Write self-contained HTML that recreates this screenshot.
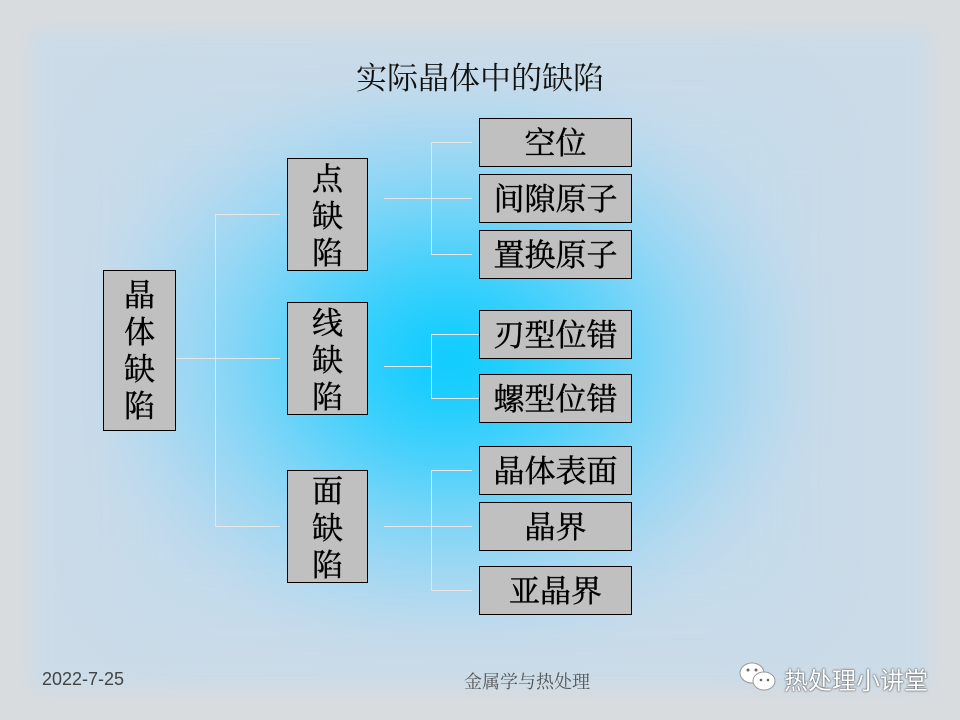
<!DOCTYPE html>
<html><head><meta charset="utf-8"><style>
html,body{margin:0;padding:0}
body{width:960px;height:720px;position:relative;overflow:hidden;background:#d9dcdf;font-family:"Liberation Serif","Noto Serif CJK SC",serif}
#bg{position:absolute;left:30px;top:30px;width:900px;height:660px;background:#cbdbe8;filter:blur(10px)}
#bg2{position:absolute;left:110px;top:90px;width:700px;height:540px;background:radial-gradient(ellipse 380px 300px at 340px 270px,#00ccff 0%,#40d0fc 30%,#8cd6f6 60%,#b8d9ee 85%,#c6dbea 100%);filter:blur(25px);border-radius:60px}
.b{position:absolute;box-sizing:border-box;border:1px solid #000;background:#c0c0c0;color:#000;text-align:center;font-size:31px;-webkit-text-stroke:0.4px #000}
.v{line-height:37px;padding-top:2px}
.h{line-height:50px}
.l{position:absolute;background:#e6e6e6}
.t{position:absolute;font-family:"Liberation Sans","Noto Sans CJK SC",sans-serif}
</style></head><body>
<div id="bg"></div>
<div id="bg2"></div>
<div class="t" style="left:0;width:960px;top:53px;text-align:center;font-size:31px;color:#111;font-family:'Liberation Serif','Noto Serif CJK SC',serif">实际晶体中的缺陷</div>

<div class="l" style="left:175px;top:358px;width:105px;height:1px"></div>
<div class="l" style="left:215px;top:214px;width:1px;height:312px"></div>
<div class="l" style="left:215px;top:214px;width:65px;height:1px"></div>
<div class="l" style="left:215px;top:526px;width:65px;height:1px"></div>

<div class="l" style="left:384px;top:198px;width:88px;height:1px"></div>
<div class="l" style="left:431px;top:142px;width:1px;height:112px"></div>
<div class="l" style="left:431px;top:142px;width:41px;height:1px"></div>
<div class="l" style="left:431px;top:254px;width:41px;height:1px"></div>

<div class="l" style="left:384px;top:366px;width:47px;height:1px"></div>
<div class="l" style="left:431px;top:334px;width:1px;height:64px"></div>
<div class="l" style="left:431px;top:334px;width:49px;height:1px"></div>
<div class="l" style="left:431px;top:398px;width:49px;height:1px"></div>

<div class="l" style="left:384px;top:526px;width:88px;height:1px"></div>
<div class="l" style="left:431px;top:470px;width:1px;height:120px"></div>
<div class="l" style="left:431px;top:470px;width:41px;height:1px"></div>
<div class="l" style="left:431px;top:590px;width:41px;height:1px"></div>

<div class="b v" style="left:103px;top:270px;width:73px;height:161px;padding-top:6px">晶<br>体<br>缺<br>陷</div>
<div class="b v" style="left:287px;top:158px;width:81px;height:113px">点<br>缺<br>陷</div>
<div class="b v" style="left:287px;top:302px;width:81px;height:113px">线<br>缺<br>陷</div>
<div class="b v" style="left:287px;top:470px;width:81px;height:113px">面<br>缺<br>陷</div>

<div class="b h" style="left:479px;top:118px;width:153px;height:49px">空位</div>
<div class="b h" style="left:479px;top:174px;width:153px;height:49px">间隙原子</div>
<div class="b h" style="left:479px;top:230px;width:153px;height:49px">置换原子</div>
<div class="b h" style="left:479px;top:310px;width:153px;height:49px">刃型位错</div>
<div class="b h" style="left:479px;top:374px;width:153px;height:49px">螺型位错</div>
<div class="b h" style="left:479px;top:446px;width:153px;height:49px">晶体表面</div>
<div class="b h" style="left:479px;top:502px;width:153px;height:49px">晶界</div>
<div class="b h" style="left:479px;top:566px;width:153px;height:49px">亚晶界</div>

<div class="t" style="left:42px;top:669px;font-size:18px;color:#444">2022-7-25</div>
<div class="t" style="left:464px;top:668px;font-size:18px;color:#555;font-family:'Liberation Serif','Noto Serif CJK SC',serif">金属学与热处理</div>
<svg style="position:absolute;left:738px;top:660px" width="44" height="34" viewBox="0 0 44 34">
<ellipse cx="14" cy="13" rx="12" ry="10" fill="#fff" stroke="#999" stroke-width="1"/>
<ellipse cx="26" cy="21" rx="11" ry="9" fill="#fff" stroke="#999" stroke-width="1"/>
<circle cx="10" cy="10" r="1.5" fill="#666"/><circle cx="18" cy="10" r="1.5" fill="#666"/>
<circle cx="23" cy="20" r="1.3" fill="#666"/><circle cx="30" cy="20" r="1.3" fill="#666"/>
</svg>
<div class="t" style="left:784px;top:661px;font-size:24px;color:#fff;text-shadow:0 0 2px #555,0 0 1px #333">热处理小讲堂</div>
</body></html>
